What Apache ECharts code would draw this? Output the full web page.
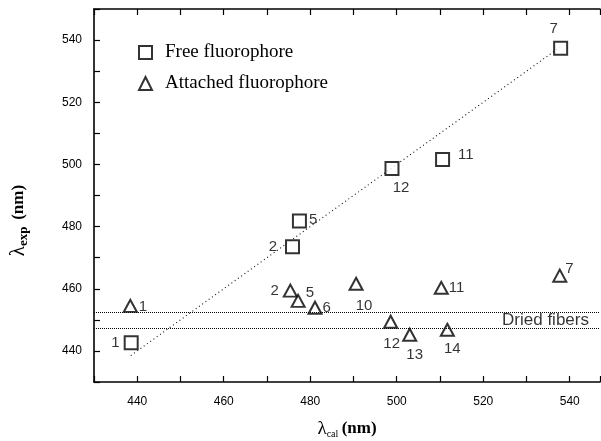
<!DOCTYPE html>
<html><head><meta charset="utf-8">
<script src="https://cdn.jsdelivr.net/npm/echarts@6/dist/echarts.min.js"></script>
<style>html,body{margin:0;padding:0;background:#fff}#c{width:601px;height:441px}</style>
</head><body><div id="c"></div>
<script>
// Free fluorophore: [lambda_cal, lambda_exp]
const freeX = [438.6, 475.9, 477.5, 498.9, 510.6, 537.9];
const freeY = [442.6, 473.5, 481.8, 498.7, 501.6, 537.4];
const freeLabels = ['1', '2', '5', '12', '11', '7'];
// Attached fluorophore
const attX = [438.4, 475.4, 477.2, 481.1, 490.6, 498.6, 503.0, 510.3, 511.7, 537.7];
const attY = [454.5, 459.4, 456.1, 453.9, 461.6, 449.4, 445.2, 460.3, 446.8, 464.2];
const attLabels = ['1', '2', '5', '6', '10', '12', '13', '11', '14', '7'];
// y = x reference line endpoints
const diagX = [438.5, 538];
const diagY = [438.5, 538];
// Dried fibers band
const driedBand = [452.4, 447.4];
const driedLabel = 'Dried fibers';
const driedLabelPos = [534.4, 450];
const xTicks = [440, 460, 480, 500, 520, 540];
const yTicks = [440, 460, 480, 500, 520, 540];

// label placement styles (not data)
const freePos = [
  {position: 'left', distance: 4},
  {position: 'left', distance: 8},
  {position: 'right', distance: 2, offset: [0, -1]},
  {position: 'bottom', distance: 4, offset: [9, 0]},
  {position: 'right', distance: 8, offset: [0, -5]},
  {position: 'top', distance: 4, offset: [-7, 0]}
];
const attPos = [
  {position: 'right', distance: 1, offset: [0, 1]},
  {position: 'left', distance: 4},
  {position: 'right', distance: 0, offset: [0, -8]},
  {position: 'right', distance: 0},
  {position: 'bottom', distance: 8, offset: [8, 0]},
  {position: 'bottom', distance: 8, offset: [1, 0]},
  {position: 'bottom', distance: 6, offset: [5, 0]},
  {position: 'right', distance: 0, offset: [0, 0]},
  {position: 'bottom', distance: 5, offset: [5, 0]},
  {position: 'right', distance: -2, offset: [0, -7]}
];

const ptLabel = {show: true, color: '#000', fontFamily: 'Liberation Sans', fontSize: 15};
const freeData = freeX.map((x, i) => ({value: [x, freeY[i]], name: freeLabels[i], label: Object.assign({}, ptLabel, freePos[i])}));
const attData = attX.map((x, i) => ({value: [x, attY[i]], name: attLabels[i], label: Object.assign({}, ptLabel, attPos[i])}));

const axisCommon = {
  min: 430, max: 547, interval: 10,
  axisLine: {show: true, onZero: false, lineStyle: {color: '#000', width: 1.6}},
  axisTick: {show: true, inside: true, length: 6, lineStyle: {color: '#000', width: 1.2}},
  splitLine: {show: false}
};

const chart = echarts.init(document.getElementById('c'));
chart.setOption({
  animation: false,
  backgroundColor: '#fff',
  grid: {left: 94, right: 1, top: 9, bottom: 59, outerBoundsMode: 'none', containLabel: false},
  legend: {
    left: 133, top: 38, orient: 'vertical', itemGap: 12, itemWidth: 13, itemHeight: 13,
    data: ['Free fluorophore', 'Attached fluorophore'],
    textStyle: {fontFamily: 'Liberation Serif', fontSize: 19, color: '#000', padding: [0, 0, 0, 8]}
  },
  xAxis: [
    Object.assign({}, axisCommon, {
      type: 'value', position: 'bottom',
      axisLabel: {color: '#000', fontFamily: 'Liberation Sans', fontSize: 12, margin: 14,
        formatter: v => xTicks.includes(v) ? String(v) : ''},
      name: '{l|λ}{s|cal} {b|(nm)}', nameLocation: 'middle', nameGap: 37,
      nameTextStyle: {rich: {
        l: {fontFamily: 'Liberation Serif', fontSize: 19, color: '#000'},
        s: {fontFamily: 'Liberation Serif', fontSize: 10, color: '#000', padding: [10, 0, 0, 0]},
        b: {fontFamily: 'Liberation Serif', fontSize: 17, fontWeight: 'bold', color: '#000'}
      }}
    }),
    Object.assign({}, axisCommon, {
      type: 'value', position: 'top', axisLabel: {show: false}
    })
  ],
  yAxis: Object.assign({}, axisCommon, {
    type: 'value', min: 430, max: 550, position: 'left',
    axisLabel: {color: '#000', fontFamily: 'Liberation Sans', fontSize: 12, margin: 12,
      formatter: v => yTicks.includes(v) ? String(v) : ''},
    name: '{l|λ}{s|exp}  {b|(nm)}', nameLocation: 'middle', nameGap: 64, nameRotate: 90,
    nameTextStyle: {padding: [0, 50, 0, 0], rich: {
      l: {fontFamily: 'Liberation Serif', fontSize: 21, color: '#000'},
      s: {fontFamily: 'Liberation Serif', fontSize: 13, fontWeight: 'bold', color: '#000', padding: [10, 0, 0, 0]},
      b: {fontFamily: 'Liberation Serif', fontSize: 17, fontWeight: 'bold', color: '#000'}
    }}
  }),
  series: [
    {
      type: 'line', name: 'fit', data: diagX.map((x, i) => [x, diagY[i]]),
      showSymbol: false, symbol: 'none', silent: true,
      lineStyle: {color: '#111', width: 1.1, type: [1, 3]}, z: 1
    },
    {
      type: 'line', name: 'dried', data: [], silent: true,
      markLine: {
        silent: true, symbol: 'none', label: {show: false},
        data: [
          {yAxis: driedBand[0], lineStyle: {color: '#000', width: 1.2, type: [1, 1]}},
          {yAxis: driedBand[1], lineStyle: {color: '#000', width: 1.2, type: [1, 1]}}
        ]
      }
    },
    {
      type: 'scatter', name: 'driedLabel', silent: true, symbolSize: 0,
      data: [{value: driedLabelPos, name: driedLabel}],
      label: {show: true, position: 'inside', formatter: '{b}', color: '#000', fontFamily: 'Liberation Sans', fontSize: 17}
    },
    {
      type: 'scatter', name: 'Free fluorophore', symbol: 'rect', symbolSize: 13,
      itemStyle: {color: '#fff', borderColor: '#000', borderWidth: 2},
      label: {formatter: '{b}'},
      data: freeData, z: 3
    },
    {
      type: 'scatter', name: 'Attached fluorophore', symbol: 'triangle', symbolSize: [13, 12],
      itemStyle: {color: '#fff', borderColor: '#000', borderWidth: 2},
      label: {formatter: '{b}'},
      data: attData, z: 3
    }
  ]
});
</script>
</body></html>
